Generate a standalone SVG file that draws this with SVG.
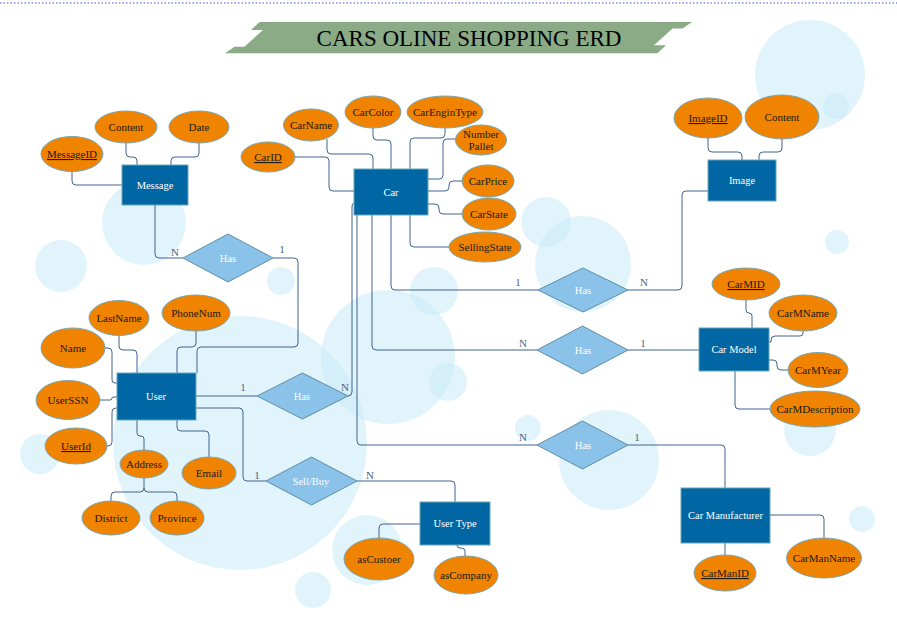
<svg xmlns="http://www.w3.org/2000/svg" width="897" height="635" viewBox="0 0 897 635">
<style>
.bg{fill:#c6eaf8;opacity:0.5}
.ent{fill:#0067a4;stroke:#68a6b6;stroke-width:1}
.rel{fill:#8ac2e9;stroke:#5e8ea6;stroke-width:1}
.att{fill:#f08300;stroke:#77a7b3;stroke-width:1}
.et{font-family:"Liberation Serif",serif;font-size:10.5px;fill:#ffffff;text-anchor:middle}
.at{font-family:"Liberation Serif",serif;font-size:11px;fill:#1a1a1a;text-anchor:middle}
.u{text-decoration:underline}
.card{font-family:"Liberation Serif",serif;font-size:11px;fill:#4a6684;text-anchor:middle}
#connectors path{fill:none;stroke:#3f6590;stroke-width:1}
</style>
<rect width="897" height="635" fill="#ffffff"/>
<line x1="0" y1="3" x2="897" y2="3" stroke="#3355cc" stroke-width="1" stroke-dasharray="1.5,2"/>
<g id="background">
<circle class="bg" cx="810" cy="75" r="55"/>
<circle class="bg" cx="836" cy="106" r="13"/>
<circle class="bg" cx="144" cy="223" r="42"/>
<circle class="bg" cx="61" cy="266" r="26"/>
<circle class="bg" cx="281" cy="281" r="14"/>
<circle class="bg" cx="240" cy="443" r="127"/>
<circle class="bg" cx="388" cy="357" r="67"/>
<circle class="bg" cx="434" cy="291" r="24"/>
<circle class="bg" cx="448" cy="382" r="19"/>
<circle class="bg" cx="583" cy="264" r="48"/>
<circle class="bg" cx="546" cy="222" r="25"/>
<circle class="bg" cx="609" cy="460" r="50"/>
<circle class="bg" cx="528" cy="428" r="13"/>
<circle class="bg" cx="810" cy="430" r="26"/>
<circle class="bg" cx="837" cy="242" r="12"/>
<circle class="bg" cx="862" cy="519" r="13"/>
<circle class="bg" cx="40" cy="454" r="20"/>
<circle class="bg" cx="367" cy="550" r="35"/>
<circle class="bg" cx="313" cy="590" r="18"/>
</g>
<g id="title">
<polygon points="259.5,22 692,22 682.5,28.6 672.5,28.6 654,45.3 666,45.3 657.5,53.3 225,53.3 234.5,46.7 244.5,46.7 263,30 251,30" fill="#8baa86"/>
<text x="469" y="46" font-family="Liberation Serif,serif" font-size="23" fill="#000" text-anchor="middle">CARS OLINE SHOPPING ERD</text>
</g>
<g id="connectors">
<path d="M72,171 V181 Q72,185 76,185 H122"/>
<path d="M126,143 V153 Q126,157 130,157 H133 Q137,157 137,161 V165"/>
<path d="M199,143 V153 Q199,157 195,157 H175 Q171,157 171,161 V165"/>
<path d="M155,205 V254 Q155,258 159,258 H183"/>
<path d="M273,258 H294 Q298,258 298,262 V343 Q298,347 294,347 H201 Q197,347 197,351 V373"/>
<path d="M295,157 H325 Q329,157 329,161 V187 Q329,191 333,191 H354"/>
<path d="M327,139 V150 Q327,154 331,154 H369 Q373,154 373,158 V169"/>
<path d="M373,128 V136 Q373,140 377,140 H387 Q391,140 391,144 V169"/>
<path d="M445,128 V134 Q445,138 441,138 H414 Q410,138 410,142 V169"/>
<path d="M456,139 H447 Q443,139 443,143 V175 Q443,179 439,179 H428"/>
<path d="M462,181 H453 Q449,181 449,185 V187 Q449,191 445,191 H428"/>
<path d="M462,214 H443 Q439,214 439,210 V208 Q439,204 435,204 H428"/>
<path d="M449,247 H414 Q410,247 410,243 V215"/>
<path d="M354,203 Q352,203 352,207 V392 Q352,396 348,396"/>
<path d="M357,215 V441 Q357,445 361,445 H537"/>
<path d="M372,215 V346 Q372,350 376,350 H537"/>
<path d="M391,215 V286 Q391,290 395,290 H538"/>
<path d="M628,290 H678 Q682,290 682,286 V195 Q682,191 686,191 H708"/>
<path d="M708,138 V148 Q708,152 712,152 H738 Q742,152 742,156 V160"/>
<path d="M782,139 V148 Q782,152 778,152 H763 Q759,152 759,156 V160"/>
<path d="M628,350 H699"/>
<path d="M746,300 V310 Q746,313 749,313 Q752,313 752,316 V328"/>
<path d="M803,331 V333 Q803,336 800,336 H775 Q771,336 771,340 V342 H769"/>
<path d="M788,370 H781 Q777,370 777,366 V364 Q777,360 773,360 H769"/>
<path d="M770,409 H739 Q735,409 735,405 V371"/>
<path d="M628,445 H721 Q725,445 725,449 V488"/>
<path d="M725,543 V555"/>
<path d="M770,515 H820 Q824,515 824,519 V538"/>
<path d="M105,348 H108 Q112,348 112,352 V380 Q112,383 115,383 H117"/>
<path d="M119,335 V346 Q119,350 123,350 H133 Q137,350 137,354 V373"/>
<path d="M196,331 V343 Q196,347 192,347 H181 Q177,347 177,351 V373"/>
<path d="M100,400 H110 Q112,400 112,398 Q112,397 114,397 H117"/>
<path d="M107,446 H108 Q112,446 112,442 V412 Q112,408 116,408 H117"/>
<path d="M137,420 V433 Q137,436 140,436 H141 Q144,436 144,439 V450"/>
<path d="M177,420 V427 Q177,431 181,431 H205 Q209,431 209,435 V457"/>
<path d="M144,478 V488 Q144,492 140,492 H115 Q111,492 111,496 V501"/>
<path d="M144,488 Q144,492 148,492 H173 Q177,492 177,496 V501"/>
<path d="M196,396 H257"/>
<path d="M196,408 H239 Q243,408 243,412 V477 Q243,481 247,481 H266"/>
<path d="M357,481 H451 Q455,481 455,485 V502"/>
<path d="M420,524 H383 Q379,524 379,528 V538"/>
<path d="M457,545 V546 Q457,548 461,548 Q465,548 465,551 V556"/>
</g>
<g id="cardinalities">
<text class="card" x="175" y="256">N</text>
<text class="card" x="282" y="253">1</text>
<text class="card" x="243" y="391">1</text>
<text class="card" x="345" y="391">N</text>
<text class="card" x="257" y="479">1</text>
<text class="card" x="370" y="479">N</text>
<text class="card" x="518" y="286">1</text>
<text class="card" x="644" y="286">N</text>
<text class="card" x="523" y="347">N</text>
<text class="card" x="643" y="347">1</text>
<text class="card" x="523" y="441">N</text>
<text class="card" x="637" y="441">1</text>
</g>
<g id="Message"><rect class="ent" x="122" y="165" width="66" height="40"/><text class="et" x="155" y="189">Message</text></g>
<g id="Car"><rect class="ent" x="354" y="169" width="74" height="46"/><text class="et" x="391" y="196">Car</text></g>
<g id="Image"><rect class="ent" x="708" y="160" width="68" height="41"/><text class="et" x="742" y="184">Image</text></g>
<g id="User"><rect class="ent" x="117" y="373" width="79" height="47"/><text class="et" x="156" y="400">User</text></g>
<g id="CarModel"><rect class="ent" x="699" y="328" width="70" height="43"/><text class="et" x="734" y="353">Car Model</text></g>
<g id="UserType"><rect class="ent" x="420" y="502" width="70" height="43"/><text class="et" x="455" y="527">User Type</text></g>
<g id="CarManufacturer"><rect class="ent" x="681" y="488" width="89" height="55"/><text class="et" x="725.5" y="519">Car Manufacturer</text></g>
<g id="HasMessageUser"><polygon class="rel" points="183,258 228,234 273,258 228,282"/><text class="et" x="228" y="262">Has</text></g>
<g id="HasUserCar"><polygon class="rel" points="257,396 302.5,373 348,396 302.5,419"/><text class="et" x="302" y="400">Has</text></g>
<g id="SellBuy"><polygon class="rel" points="266,481 311.5,457 357,481 311.5,505"/><text class="et" x="311" y="485">Sell/Buy</text></g>
<g id="HasCarImage"><polygon class="rel" points="538,290 583,268 628,290 583,312"/><text class="et" x="583" y="294">Has</text></g>
<g id="HasCarModel"><polygon class="rel" points="537,350 582.5,326 628,350 582.5,374"/><text class="et" x="583" y="354">Has</text></g>
<g id="HasCarManufacturer"><polygon class="rel" points="537,445 582.5,421 628,445 582.5,469"/><text class="et" x="583" y="449">Has</text></g>
<g id="MessageID"><ellipse class="att" cx="72" cy="154" rx="31" ry="17.5"/><text class="at u" x="72" y="158">MessageID</text></g>
<g id="MessageContent"><ellipse class="att" cx="126" cy="127" rx="31" ry="16"/><text class="at" x="126" y="131">Content</text></g>
<g id="Date"><ellipse class="att" cx="199" cy="127" rx="30" ry="16"/><text class="at" x="199" y="131">Date</text></g>
<g id="CarID"><ellipse class="att" cx="268" cy="157" rx="27" ry="15"/><text class="at u" x="268" y="161">CarID</text></g>
<g id="CarName"><ellipse class="att" cx="311" cy="125" rx="27.5" ry="16"/><text class="at" x="311" y="129">CarName</text></g>
<g id="CarColor"><ellipse class="att" cx="373" cy="112" rx="28" ry="16"/><text class="at" x="373" y="116">CarColor</text></g>
<g id="CarEnginType"><ellipse class="att" cx="445" cy="112" rx="38" ry="16"/><text class="at" x="445" y="116">CarEnginType</text></g>
<g id="NumberPallet"><ellipse class="att" cx="481" cy="140" rx="25.5" ry="15"/><text class="at" x="481" y="138">Number</text><text class="at" x="481" y="150">Pallet</text></g>
<g id="CarPrice"><ellipse class="att" cx="488" cy="181" rx="26" ry="16"/><text class="at" x="488" y="185">CarPrice</text></g>
<g id="CarState"><ellipse class="att" cx="489" cy="214" rx="27" ry="16"/><text class="at" x="489" y="218">CarState</text></g>
<g id="SellingState"><ellipse class="att" cx="485" cy="247" rx="36" ry="15"/><text class="at" x="485" y="251">SellingState</text></g>
<g id="ImageID"><ellipse class="att" cx="708" cy="118" rx="34" ry="20"/><text class="at u" x="708" y="122">ImageID</text></g>
<g id="ImageContent"><ellipse class="att" cx="782" cy="117" rx="37" ry="22"/><text class="at" x="782" y="121">Content</text></g>
<g id="Name"><ellipse class="att" cx="73" cy="348" rx="32" ry="20"/><text class="at" x="73" y="352">Name</text></g>
<g id="LastName"><ellipse class="att" cx="119" cy="318" rx="30" ry="17.5"/><text class="at" x="119" y="322">LastName</text></g>
<g id="PhoneNum"><ellipse class="att" cx="196" cy="313" rx="34" ry="18"/><text class="at" x="196" y="317">PhoneNum</text></g>
<g id="UserSSN"><ellipse class="att" cx="68" cy="400" rx="32" ry="19.5"/><text class="at" x="68" y="404">UserSSN</text></g>
<g id="UserId"><ellipse class="att" cx="76" cy="446" rx="31" ry="18"/><text class="at u" x="76" y="450">UserId</text></g>
<g id="Address"><ellipse class="att" cx="144" cy="464" rx="24" ry="14"/><text class="at" x="144" y="468">Address</text></g>
<g id="Email"><ellipse class="att" cx="209" cy="473" rx="27" ry="16"/><text class="at" x="209" y="477">Email</text></g>
<g id="District"><ellipse class="att" cx="111" cy="518" rx="29" ry="17"/><text class="at" x="111" y="522">District</text></g>
<g id="Province"><ellipse class="att" cx="177" cy="518" rx="27" ry="17"/><text class="at" x="177" y="522">Province</text></g>
<g id="CarMID"><ellipse class="att" cx="746" cy="284" rx="34" ry="16"/><text class="at u" x="746" y="288">CarMID</text></g>
<g id="CarMName"><ellipse class="att" cx="803" cy="313" rx="34" ry="18"/><text class="at" x="803" y="317">CarMName</text></g>
<g id="CarMYear"><ellipse class="att" cx="818" cy="370" rx="30" ry="17.5"/><text class="at" x="818" y="374">CarMYear</text></g>
<g id="CarMDescription"><ellipse class="att" cx="815" cy="409" rx="45" ry="18"/><text class="at" x="815" y="413">CarMDescription</text></g>
<g id="asCustoer"><ellipse class="att" cx="379" cy="559" rx="35" ry="21"/><text class="at" x="379" y="563">asCustoer</text></g>
<g id="asCompany"><ellipse class="att" cx="466" cy="575" rx="32" ry="19"/><text class="at" x="466" y="579">asCompany</text></g>
<g id="CarManID"><ellipse class="att" cx="725" cy="573" rx="31" ry="18"/><text class="at u" x="725" y="577">CarManID</text></g>
<g id="CarManName"><ellipse class="att" cx="824" cy="558" rx="37.5" ry="20"/><text class="at" x="824" y="562">CarManName</text></g>
</svg>
